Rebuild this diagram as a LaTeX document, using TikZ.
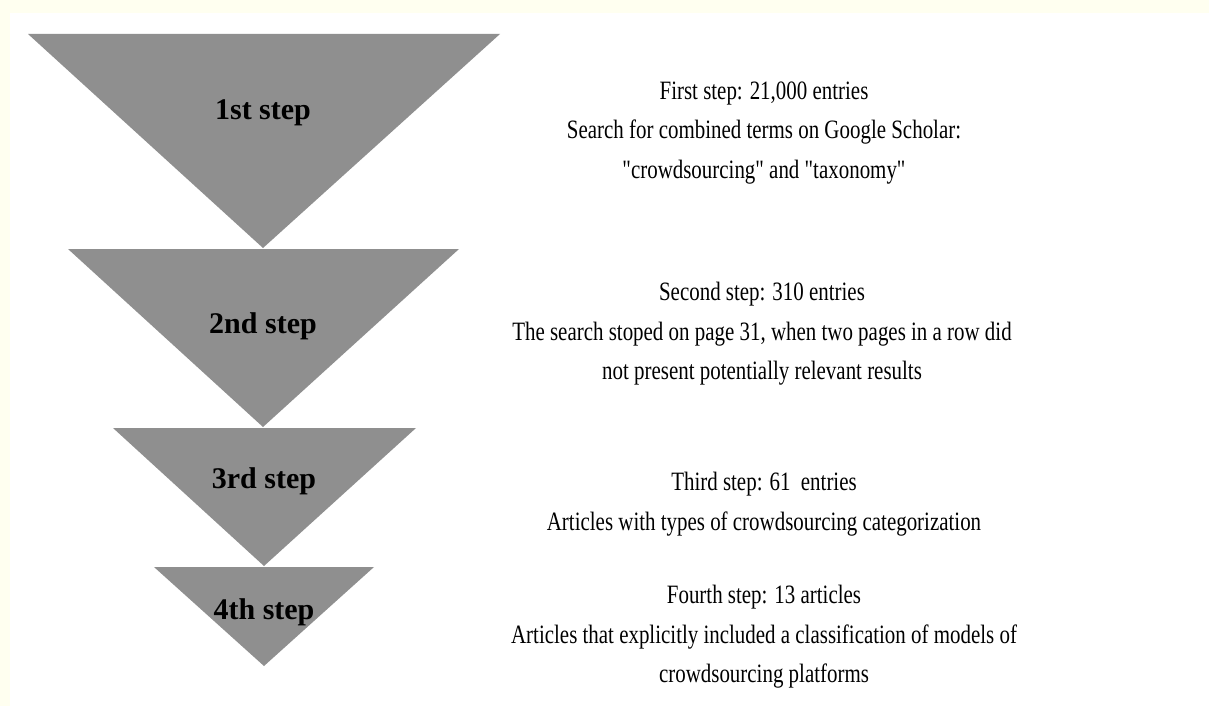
\documentclass[tikz,border=0pt]{standalone}
\usepackage{fontspec}
\setmainfont{Liberation Serif}[Ligatures=TeXOff]
\newfontfamily\notefont{Liberation Serif}[FakeStretch=0.79, Ligatures=TeXOff]
\definecolor{paper}{HTML}{FFFFF0}
\definecolor{funnel}{HTML}{8F8F8F}

\begin{document}
\begin{tikzpicture}[x=1pt, y=-1pt,
    steplabel/.style={font=\fontsize{30}{36}\selectfont\bfseries, text=black},
    stepnote/.style={font=\notefont\fontsize{26.5}{39.5}\selectfont, align=center, text=black}]
      \fill[paper] (0,0) rectangle (1209,706);
      \fill[white] (10,13) rectangle (1209,706);
      \useasboundingbox (0,0) rectangle (1209,706);
      % funnel
      \fill[funnel] (28,34) -- (500,34) -- (263,248) -- cycle;
      \fill[funnel] (68,249) -- (459,249) -- (263,427) -- cycle;
      \fill[funnel] (113,428) -- (416,428) -- (264,566) -- cycle;
      \fill[funnel] (154,567) -- (374,567) -- (264,666) -- cycle;
      \node[steplabel] (s1) at (263,113) {1st step};
      \node[steplabel] (s2) at (263,326) {2nd step};
      \node[steplabel] (s3) at (264,481) {3rd step};
      \node[steplabel] (s4) at (264,612) {4th step};
      % descriptions
      \node[stepnote] (d1) at (764,133) {First step: 21,000 entries\\Search for combined terms on Google Scholar:\\"crowdsourcing" and "taxonomy"};
      \node[stepnote] (d2) at (762,334) {Second step: 310 entries\\The search stoped on page 31, when two pages in a row did\\not present potentially relevant results};
      \node[stepnote] (d3) at (764,504) {Third step: 61~ entries\\Articles with types of crowdsourcing categorization};
      \node[stepnote] (d4) at (764,637) {Fourth step: 13 articles\\Articles that explicitly included a classification of models of\\crowdsourcing platforms};
    \end{tikzpicture}
\end{document}
